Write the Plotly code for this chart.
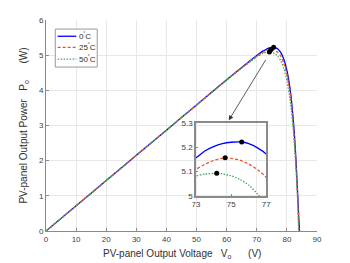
import plotly.graph_objects as go

# ---- data ----
v_0c = [0, 10, 20, 30, 40, 50, 60, 65, 70, 72, 73, 73.5, 74, 74.5, 75, 75.6, 76, 76.5, 77,
        78, 79, 80, 81, 81.5, 82, 82.5, 83, 83.5, 84, 84.2]
p_0c = [0, 0.717, 1.434, 2.151, 2.868, 3.585, 4.30, 4.65, 4.99, 5.115, 5.157, 5.185, 5.203, 5.215,
        5.221, 5.222, 5.215, 5.198, 5.172, 5.07, 4.88, 4.57, 4.08, 3.72, 3.28, 2.74, 2.05, 1.2, 0.3, 0]

v_25c = [0, 10, 20, 30, 40, 50, 60, 65, 70, 72, 73, 73.5, 74, 74.66, 75, 75.5, 76, 76.5, 77,
         78, 79, 80, 81, 81.5, 82, 82.5, 83, 83.5, 84]
p_25c = [0, 0.717, 1.434, 2.151, 2.868, 3.585, 4.295, 4.64, 4.97, 5.075, 5.11, 5.13, 5.146, 5.157,
         5.155, 5.147, 5.132, 5.108, 5.076, 4.97, 4.77, 4.45, 3.96, 3.6, 3.15, 2.6, 1.92, 1.05, 0]

v_50c = [0, 10, 20, 30, 40, 50, 60, 65, 70, 72, 73, 73.5, 74.18, 74.5, 75, 75.5, 76, 76.5, 77,
         78, 79, 80, 81, 81.5, 82, 82.5, 83, 83.5, 83.9]
p_50c = [0, 0.717, 1.434, 2.151, 2.868, 3.585, 4.29, 4.63, 4.95, 5.05, 5.082, 5.09, 5.093, 5.091,
         5.083, 5.068, 5.045, 5.008, 4.965, 4.84, 4.62, 4.27, 3.77, 3.42, 2.98, 2.45, 1.8, 1.0, 0]

mpp_v = [75.6, 74.66, 74.18]
mpp_p = [5.222, 5.157, 5.093]

series_names = ["0<sup>˚</sup>C", "25<sup>˚</sup>C", "50<sup>˚</sup>C"]
x_ticks = [0, 10, 20, 30, 40, 50, 60, 70, 80, 90]
y_ticks = [0, 1, 2, 3, 4, 5, 6]
inset_x_ticks = [73, 75, 77]
inset_y_ticks = [5, 5.1, 5.2, 5.3]

colors = ["#0000FF", "#F0501E", "#3DAA5C"]
dashes = ["solid", "3px,2px", "1.5px,1.5px"]

FONT = "Liberation Sans, Arial, sans-serif"
fig = go.Figure()

series = [(v_0c, p_0c), (v_25c, p_25c), (v_50c, p_50c)]
for (v, p), name, c, d in zip(series, series_names, colors, dashes):
    fig.add_trace(go.Scatter(x=v, y=p, mode="lines", name=name, showlegend=False,
                             line=dict(color=c, width=1.3, dash=d, shape="spline", smoothing=0.6),
                             xaxis="x", yaxis="y"))
fig.add_trace(go.Scatter(x=mpp_v, y=mpp_p, mode="markers", showlegend=False,
                         marker=dict(color="black", size=5), xaxis="x", yaxis="y"))

for (v, p), name, c, d in zip(series, series_names, colors, dashes):
    fig.add_trace(go.Scatter(x=v, y=p, mode="lines", name=name, showlegend=False,
                             line=dict(color=c, width=1.3, dash=d, shape="spline", smoothing=0.6),
                             xaxis="x2", yaxis="y2"))
fig.add_trace(go.Scatter(x=mpp_v, y=mpp_p, mode="markers", showlegend=False,
                         marker=dict(color="black", size=5), xaxis="x2", yaxis="y2"))

sp = "\u00a0"
common = dict(zeroline=False, automargin=False, tickfont=dict(size=8, color="#404040"),
              tickcolor="#8A8A8A")
# page body adds an 8px offset; figure is sized so the plot lands where the reference has it
fig.update_layout(
    width=342, height=255,
    margin=dict(l=38, r=33, t=12, b=32, autoexpand=False),
    paper_bgcolor="white", plot_bgcolor="rgba(0,0,0,0)",
    font=dict(family=FONT, size=8, color="#404040"),
    xaxis=dict(domain=[0, 1], range=[0, 90], tickvals=x_ticks,
               showgrid=True, gridcolor="#E8E8E8", gridwidth=1,
               showline=True, linecolor="#8A8A8A", linewidth=1,
               ticks="inside", ticklen=3, **common),
    yaxis=dict(domain=[0, 1], range=[0, 6], tickvals=y_ticks,
               showgrid=True, gridcolor="#E8E8E8", gridwidth=1,
               showline=True, linecolor="#8A8A8A", linewidth=1,
               ticks="inside", ticklen=3, **common),
    xaxis2=dict(domain=[0.5535, 0.813], range=[73, 77], tickvals=inset_x_ticks, anchor="y2",
                showgrid=False, showline=True, mirror=True,
                linecolor="#8A8A8A", linewidth=1.5, ticks="inside", ticklen=2, **common),
    yaxis2=dict(domain=[0.1659, 0.5118], range=[5, 5.3], tickvals=inset_y_ticks, anchor="x2",
                showgrid=False, showline=True, mirror=True,
                linecolor="#8A8A8A", linewidth=1.5, ticks="inside", ticklen=2, **common),
    showlegend=False,
)

# axis titles
fig.add_annotation(x=0.5, y=-0.072, xref="paper", yref="paper", yanchor="top", xanchor="center",
                   text="PV-panel Output Voltage" + sp*3 + "V<sub>o</sub>" + sp*6 + "(V)",
                   showarrow=False, font=dict(size=10, color="#303030"))
fig.add_annotation(x=-0.055, y=0.5, xref="paper", yref="paper", yanchor="middle", xanchor="right",
                   text="PV-panel Output Power" + sp*3 + "P<sub>o</sub>" + sp*6 + "(W)",
                   textangle=-90, showarrow=False, font=dict(size=10, color="#303030"))

# compact legend (box, line samples, labels) in paper coordinates
lx0, lx1, ly0, ly1 = 0.0343, 0.189, 0.777, 0.957
fig.add_shape(type="rect", xref="paper", yref="paper", x0=lx0, x1=lx1, y0=ly0, y1=ly1,
              line=dict(color="#999999", width=1), fillcolor="white", layer="above")
entry_y = [0.923, 0.870, 0.815]
for yy, name, c, d in zip(entry_y, series_names, colors, dashes):
    fig.add_shape(type="line", xref="paper", yref="paper", x0=0.043, x1=0.112, y0=yy, y1=yy,
                  line=dict(color=c, width=1.3, dash=d), layer="above")
    fig.add_annotation(x=0.114, y=yy, xref="paper", yref="paper", text=name, showarrow=False,
                       xanchor="left", yanchor="middle", font=dict(size=8, color="#303030"))

fig.add_annotation(x=60.7, y=3.15, ax=73.3, ay=4.91, xref="x", yref="y", axref="x", ayref="y",
                   text="", showarrow=True, arrowhead=2, arrowsize=1.2, arrowwidth=0.8,
                   arrowcolor="#333333")

fig.write_html("out.html")
